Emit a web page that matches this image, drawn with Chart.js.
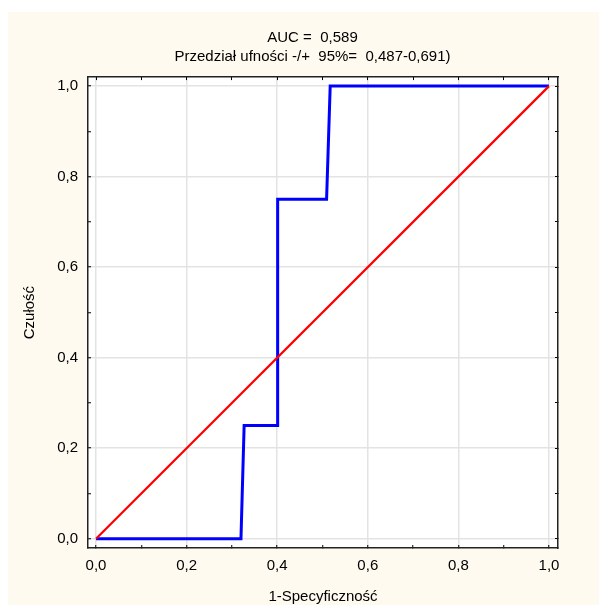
<!DOCTYPE html>
<html><head><meta charset="utf-8">
<script src="https://cdn.jsdelivr.net/npm/chart.js@4"></script>
<style>
html,body{margin:0;padding:0;background:#fff;width:599px;height:605px;overflow:hidden}
#bg{position:absolute;left:8px;top:12px;width:591px;height:593px;background:#fefaef}
#wrap{position:absolute;left:0;top:0;width:599px;height:605px}
</style></head>
<body><div id="bg"></div><div id="wrap"><canvas id="c" width="599" height="605"></canvas></div>
<script>
const titleLines = ['AUC =  0,589', 'Przedział ufności -/+  95%=  0,487-0,691)'];
const xAxisTitle = '1-Specyficzność';
const yAxisTitle = 'Czułość';
const rocX = [0, 0.320, 0.327, 0.401, 0.401, 0.509, 0.517, 1.0];
const rocY = [0, 0, 0.25, 0.25, 0.75, 0.75, 1.0, 1.0];
const diagX = [0, 1];
const diagY = [0, 1];
const tickValues = [0, 0.1, 0.2, 0.3, 0.4, 0.5, 0.6, 0.7, 0.8, 0.9, 1.0];
const tickLabels = ['0,0', '', '0,2', '', '0,4', '', '0,6', '', '0,8', '', '1,0'];

const FONT = 'Liberation Sans, Arial, sans-serif';
const toPts = (xs, ys) => xs.map((x, i) => ({x: x, y: ys[i]}));
const setTicks = s => { s.ticks = tickValues.map(v => ({value: v})); };
const gridColor = ctx => (ctx.index % 2 === 0 ? '#e3e3e3' : 'rgba(0,0,0,0)');

const plotBg = {
  id: 'plotBg',
  beforeDraw(chart) {
    const a = chart.chartArea, ctx = chart.ctx;
    ctx.save();
    ctx.fillStyle = '#ffffff';
    ctx.fillRect(a.left, a.top, a.right - a.left, a.bottom - a.top);
    ctx.restore();
  }
};

new Chart(document.getElementById('c'), {
  type: 'scatter',
  plugins: [plotBg],
  data: {
    datasets: [
      {data: toPts(diagX, diagY), showLine: true, borderColor: '#ff0000', borderWidth: 2.2,
       pointRadius: 0, xAxisID: 'x', yAxisID: 'y'},
      {data: toPts(rocX, rocY), showLine: true, borderColor: '#0000ff', borderWidth: 3,
       pointRadius: 0, xAxisID: 'x', yAxisID: 'y'}
    ]
  },
  options: {
    responsive: false,
    animation: false,
    layout: {padding: {left: 26, right: 0, top: 0, bottom: 0}},
    plugins: {
      legend: {display: false},
      tooltip: {enabled: false},
      title: {
        display: true, text: titleLines, color: '#000',
        font: {family: FONT, size: 15, weight: 'normal', lineHeight: 1.27},
        padding: {top: 28, bottom: 11}
      }
    },
    scales: {
      x: {
        type: 'linear', position: 'bottom', min: -0.0177, max: 1.0199,
        afterBuildTicks: setTicks,
        afterFit: s => { s.height = 57; },
        ticks: {callback: (v, i) => tickLabels[i], autoSkip: false, maxRotation: 0,
                padding: 12, color: '#000', font: {family: FONT, size: 15}},
        grid: {color: gridColor, lineWidth: 1.5, drawTicks: true, tickLength: -3,
               tickColor: '#000', tickWidth: 1},
        border: {color: '#222', width: 1.5},
        title: {display: true, text: xAxisTitle, color: '#000', padding: 0,
                font: {family: FONT, size: 15, lineHeight: 1.1}}
      },
      y: {
        type: 'linear', position: 'left', min: -0.0205, max: 1.0199,
        afterBuildTicks: setTicks,
        afterFit: s => { s.width = 62; },
        ticks: {callback: (v, i) => tickLabels[i], autoSkip: false,
                padding: 13, color: '#000', font: {family: FONT, size: 15}},
        grid: {color: gridColor, lineWidth: 1.5, drawTicks: true, tickLength: -3,
               tickColor: '#000', tickWidth: 1},
        border: {color: '#222', width: 1.5},
        title: {display: true, text: yAxisTitle, color: '#000', padding: 0,
                font: {family: FONT, size: 15, lineHeight: 0.533}}
      },
      x2: {
        type: 'linear', position: 'top', min: -0.0177, max: 1.0199,
        afterBuildTicks: setTicks,
        afterFit: s => { s.height = 0; },
        ticks: {display: false},
        grid: {drawOnChartArea: false, drawTicks: true, tickLength: -3, tickColor: '#000'},
        border: {color: '#222', width: 1.5}
      },
      y2: {
        type: 'linear', position: 'right', min: -0.0205, max: 1.0199,
        afterBuildTicks: setTicks,
        afterFit: s => { s.width = 41; },
        ticks: {display: false},
        grid: {drawOnChartArea: false, drawTicks: true, tickLength: -3, tickColor: '#000'},
        border: {color: '#222', width: 1.5}
      }
    }
  }
});
</script>
</body></html>
